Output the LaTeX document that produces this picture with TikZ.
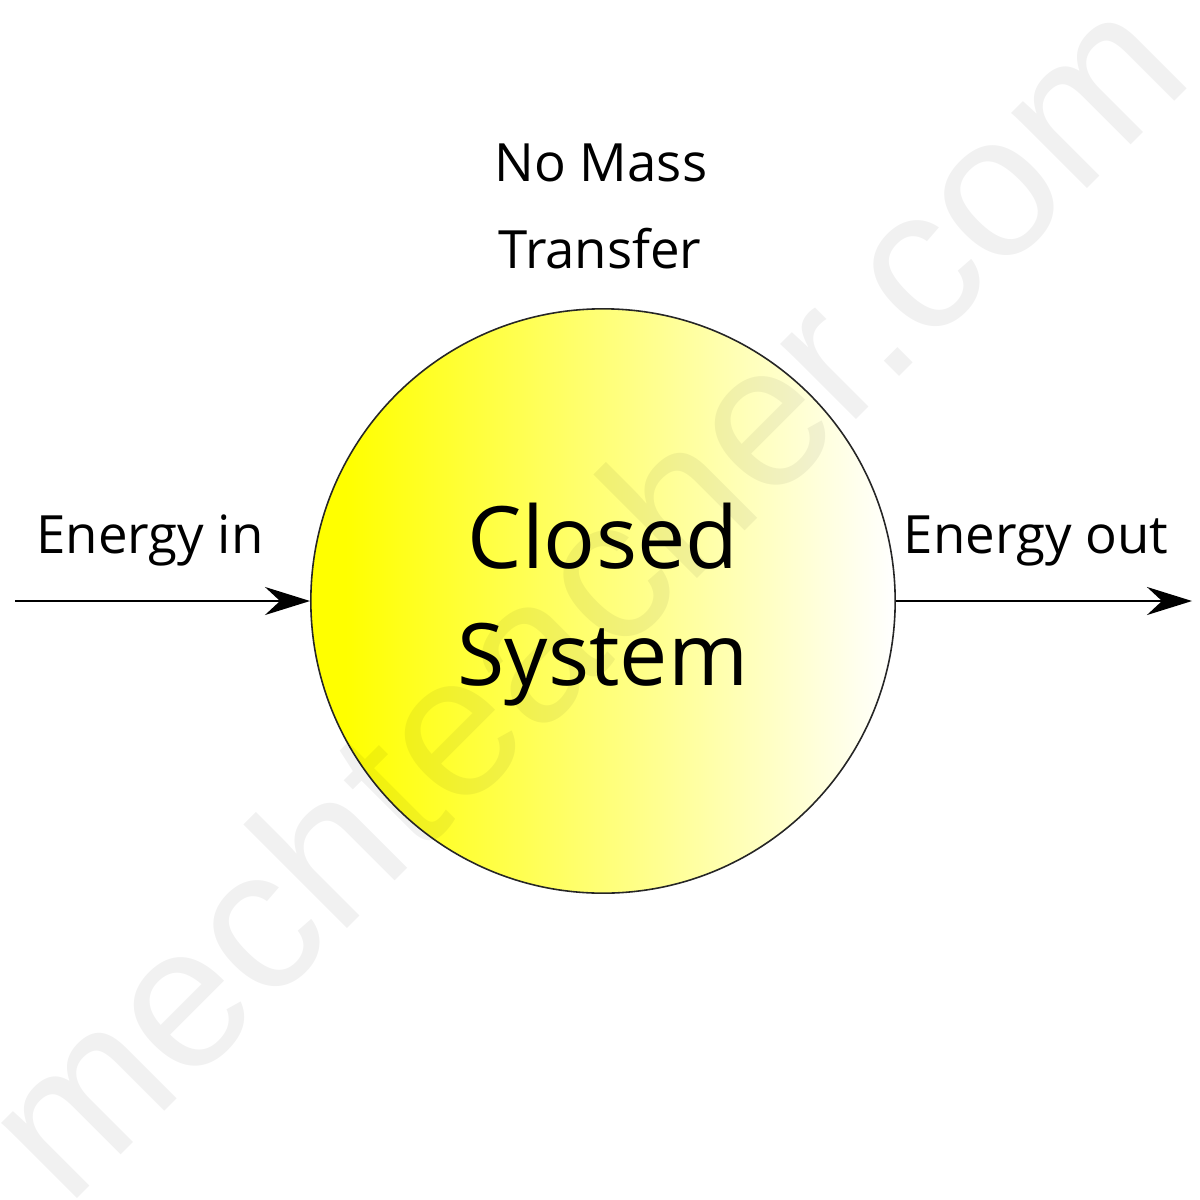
\documentclass[tikz,border=0pt]{standalone}
\usepackage{fontspec}
\setmainfont{Open Sans}
\newfontfamily\wmfont{Liberation Sans}
\usetikzlibrary{arrows.meta}
\pgfdeclarehorizontalshading{sysshade}{100bp}{color(0bp)=(yellow); color(28bp)=(yellow); color(75bp)=(white); color(100bp)=(white)}
\begin{document}
\begin{tikzpicture}[x=0.01cm,y=-0.01cm,
  lbl/.style={font=\fontsize{15}{18}\selectfont, anchor=base, inner sep=0pt, text=black},
  big/.style={font=\fontsize{24.5}{30}\selectfont, anchor=base, inner sep=0pt, text=black},
  sysnode/.style={circle, draw=black!85, line width=0.45pt, minimum size=5.84cm, inner sep=0pt, shading=sysshade},
  flow/.style={line width=0.7pt, draw=black, -{Stealth[length=4.5mm,width=2.8mm,inset=1.5mm]}},
  wm/.style={font=\wmfont\fontsize{57.5}{60}\selectfont, text=black, text opacity=0.055, anchor=base, rotate=45, inner sep=0pt}]
\useasboundingbox (0,0) rectangle (1200,1200);
\fill[white] (0,0) rectangle (1200,1200);
\node[sysnode] (sys) at (603,601) {};
\node[wm] (wmark) at (632,644) {mechteacher.com};
\coordinate (inL) at (15,601);
\coordinate (outR) at (1192,601);
\draw[flow] (inL) -- (sys.west);
\draw[flow] (sys.east) -- (outR);
\node[lbl] (ein) at (150,553) {Energy in};
\node[lbl] (eout) at (1036,553) {Energy out};
\node[lbl] (nm1) at (601,181) {No Mass};
\node[lbl] (nm2) at (600,268) {Transfer};
\node[big] (cs1) at (603,568) {Closed};
\node[big] (cs2) at (603,685) {System};
\end{tikzpicture}
\end{document}
